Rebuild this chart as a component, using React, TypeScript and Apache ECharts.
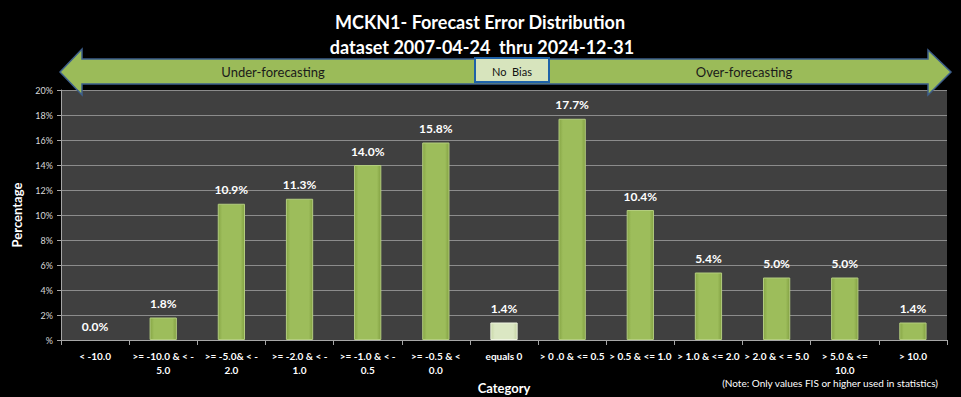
import React, { useEffect, useRef } from "react";
import * as echarts from "echarts";

const categories = [
  "< -10.0",
  ">= -10.0 & < -\n5.0",
  ">= -5.0& < -\n2.0",
  ">= -2.0 & < -\n1.0",
  ">= -1.0 & < -\n0.5",
  ">= -0.5 & <\n0.0",
  "equals 0",
  "> 0 .0 & <= 0.5",
  "> 0.5 & <= 1.0",
  "> 1.0 & <= 2.0",
  "> 2.0 & < = 5.0",
  "> 5.0 & <=\n10.0",
  "> 10.0",
];
const percentages = [0.0, 1.8, 10.9, 11.3, 14.0, 15.8, 1.4, 17.7, 10.4, 5.4, 5.0, 5.0, 1.4];
const zeroCategory = "equals 0";
const titleLines = ["MCKN1- Forecast Error Distribution", "dataset 2007-04-24  thru 2024-12-31"];
const FONT = "Lato, 'Open Sans', sans-serif";

export default function App() {
  const ref = useRef<HTMLDivElement>(null);
  useEffect(() => {
    if (!ref.current) return;
    const chart = echarts.init(ref.current, undefined, { renderer: "svg" });
    const greenGrad = new echarts.graphic.LinearGradient(0, 0, 1, 0, [
      { offset: 0, color: "#87a646" },
      { offset: 0.15, color: "#9dbd5b" },
      { offset: 0.85, color: "#9dbd5b" },
      { offset: 1, color: "#83a143" },
    ]);
    const paleGrad = new echarts.graphic.LinearGradient(0, 0, 1, 0, [
      { offset: 0, color: "#c9d8a8" },
      { offset: 0.15, color: "#dbe7c3" },
      { offset: 0.85, color: "#dbe7c3" },
      { offset: 1, color: "#c4d3a2" },
    ]);
    const data = percentages.map((v, i) => ({
      value: v,
      itemStyle:
        categories[i] === zeroCategory
          ? { color: paleGrad, borderColor: "#eef4e0", borderWidth: 1 }
          : { color: greenGrad, borderColor: "#b3cd7e", borderWidth: v > 0 ? 1 : 0 },
    }));
    chart.setOption({
      animation: false,
      backgroundColor: "#000000",
      textStyle: { fontFamily: FONT },
      grid: {
        left: 61,
        right: 14,
        top: 90,
        bottom: 57,
        backgroundColor: "#404040",
        show: true,
        borderWidth: 0,
        outerBoundsMode: "none",
        containLabel: false,
      },
      xAxis: {
        type: "category",
        data: categories,
        name: "Category",
        nameLocation: "middle",
        nameGap: 39,
        nameTextStyle: { color: "#ffffff", fontSize: 13, fontWeight: "bold", fontFamily: FONT },
        axisLine: { lineStyle: { color: "#a6a6a6" } },
        axisTick: { show: true, lineStyle: { color: "#a6a6a6" }, length: 5 },
        axisLabel: {
          color: "#ffffff",
          fontSize: 10,
          fontWeight: "bold",
          fontFamily: FONT,
          interval: 0,
          lineHeight: 14,
          margin: 9,
        },
      },
      yAxis: {
        type: "value",
        min: 0,
        max: 20,
        interval: 2,
        name: "Percentage",
        nameLocation: "middle",
        nameGap: 38,
        nameTextStyle: { color: "#ffffff", fontSize: 13, fontWeight: "bold", fontFamily: FONT },
        axisLine: { show: true, lineStyle: { color: "#a6a6a6" } },
        axisTick: { show: true, lineStyle: { color: "#a6a6a6" }, length: 4 },
        splitLine: { lineStyle: { color: "#8c8c8c", width: 1 } },
        axisLabel: {
          color: "#d9d9d9",
          fontSize: 9,
          fontFamily: FONT,
          margin: 8,
          formatter: (v: number) => (v === 0 ? "%" : v + "%"),
        },
      },
      series: [
        {
          type: "bar",
          data,
          barWidth: "40%",
          label: {
            show: true,
            position: "top",
            distance: 8,
            color: "#ffffff",
            fontSize: 12,
            fontWeight: "bold",
            fontFamily: FONT,
            formatter: (p: any) => p.value.toFixed(1) + "%",
          },
        },
      ],
      graphic: [
        {
          type: "text",
          x: 480,
          y: 22,
          style: {
            text: titleLines[0],
            fill: "#ffffff",
            font: `bold 18px ${FONT}`,
            textAlign: "center",
            textVerticalAlign: "middle",
          },
        },
        {
          type: "text",
          x: 482,
          y: 47,
          style: {
            text: titleLines[1],
            fill: "#ffffff",
            font: `bold 18px ${FONT}`,
            textAlign: "center",
            textVerticalAlign: "middle",
          },
        },
        {
          type: "polygon",
          shape: {
            points: [
              [60, 72],
              [82, 49],
              [82, 59],
              [928, 59],
              [928, 50],
              [951, 72],
              [928, 95],
              [928, 84],
              [82, 84],
              [82, 95],
            ],
          },
          style: { fill: "#9bbb59", stroke: "#3d5f8c", lineWidth: 1.5 },
          z: 10,
        },
        {
          type: "rect",
          shape: { x: 475, y: 58, width: 74, height: 24 },
          style: { fill: "#d7e4bd", stroke: "#1f62a8", lineWidth: 2 },
          z: 11,
        },
        {
          type: "text",
          x: 512,
          y: 71,
          style: { text: "No  Bias", fill: "#111111", font: `11px ${FONT}`, textAlign: "center", textVerticalAlign: "middle" },
          z: 12,
        },
        {
          type: "text",
          x: 273,
          y: 72,
          style: { text: "Under-forecasting", fill: "#1a1a1a", font: `13px ${FONT}`, textAlign: "center", textVerticalAlign: "middle" },
          z: 12,
        },
        {
          type: "text",
          x: 744,
          y: 72,
          style: { text: "Over-forecasting", fill: "#1a1a1a", font: `13px ${FONT}`, textAlign: "center", textVerticalAlign: "middle" },
          z: 12,
        },
        {
          type: "text",
          x: 938,
          y: 383,
          style: {
            text: "(Note: Only values FIS or higher used in statistics)",
            fill: "#ffffff",
            font: `10px ${FONT}`,
            textAlign: "right",
            textVerticalAlign: "middle",
          },
        },
      ],
    });
    return () => chart.dispose();
  }, []);
  return <div ref={ref} style={{ width: 961, height: 397, position: "absolute", left: 0, top: 0 }} />;
}
